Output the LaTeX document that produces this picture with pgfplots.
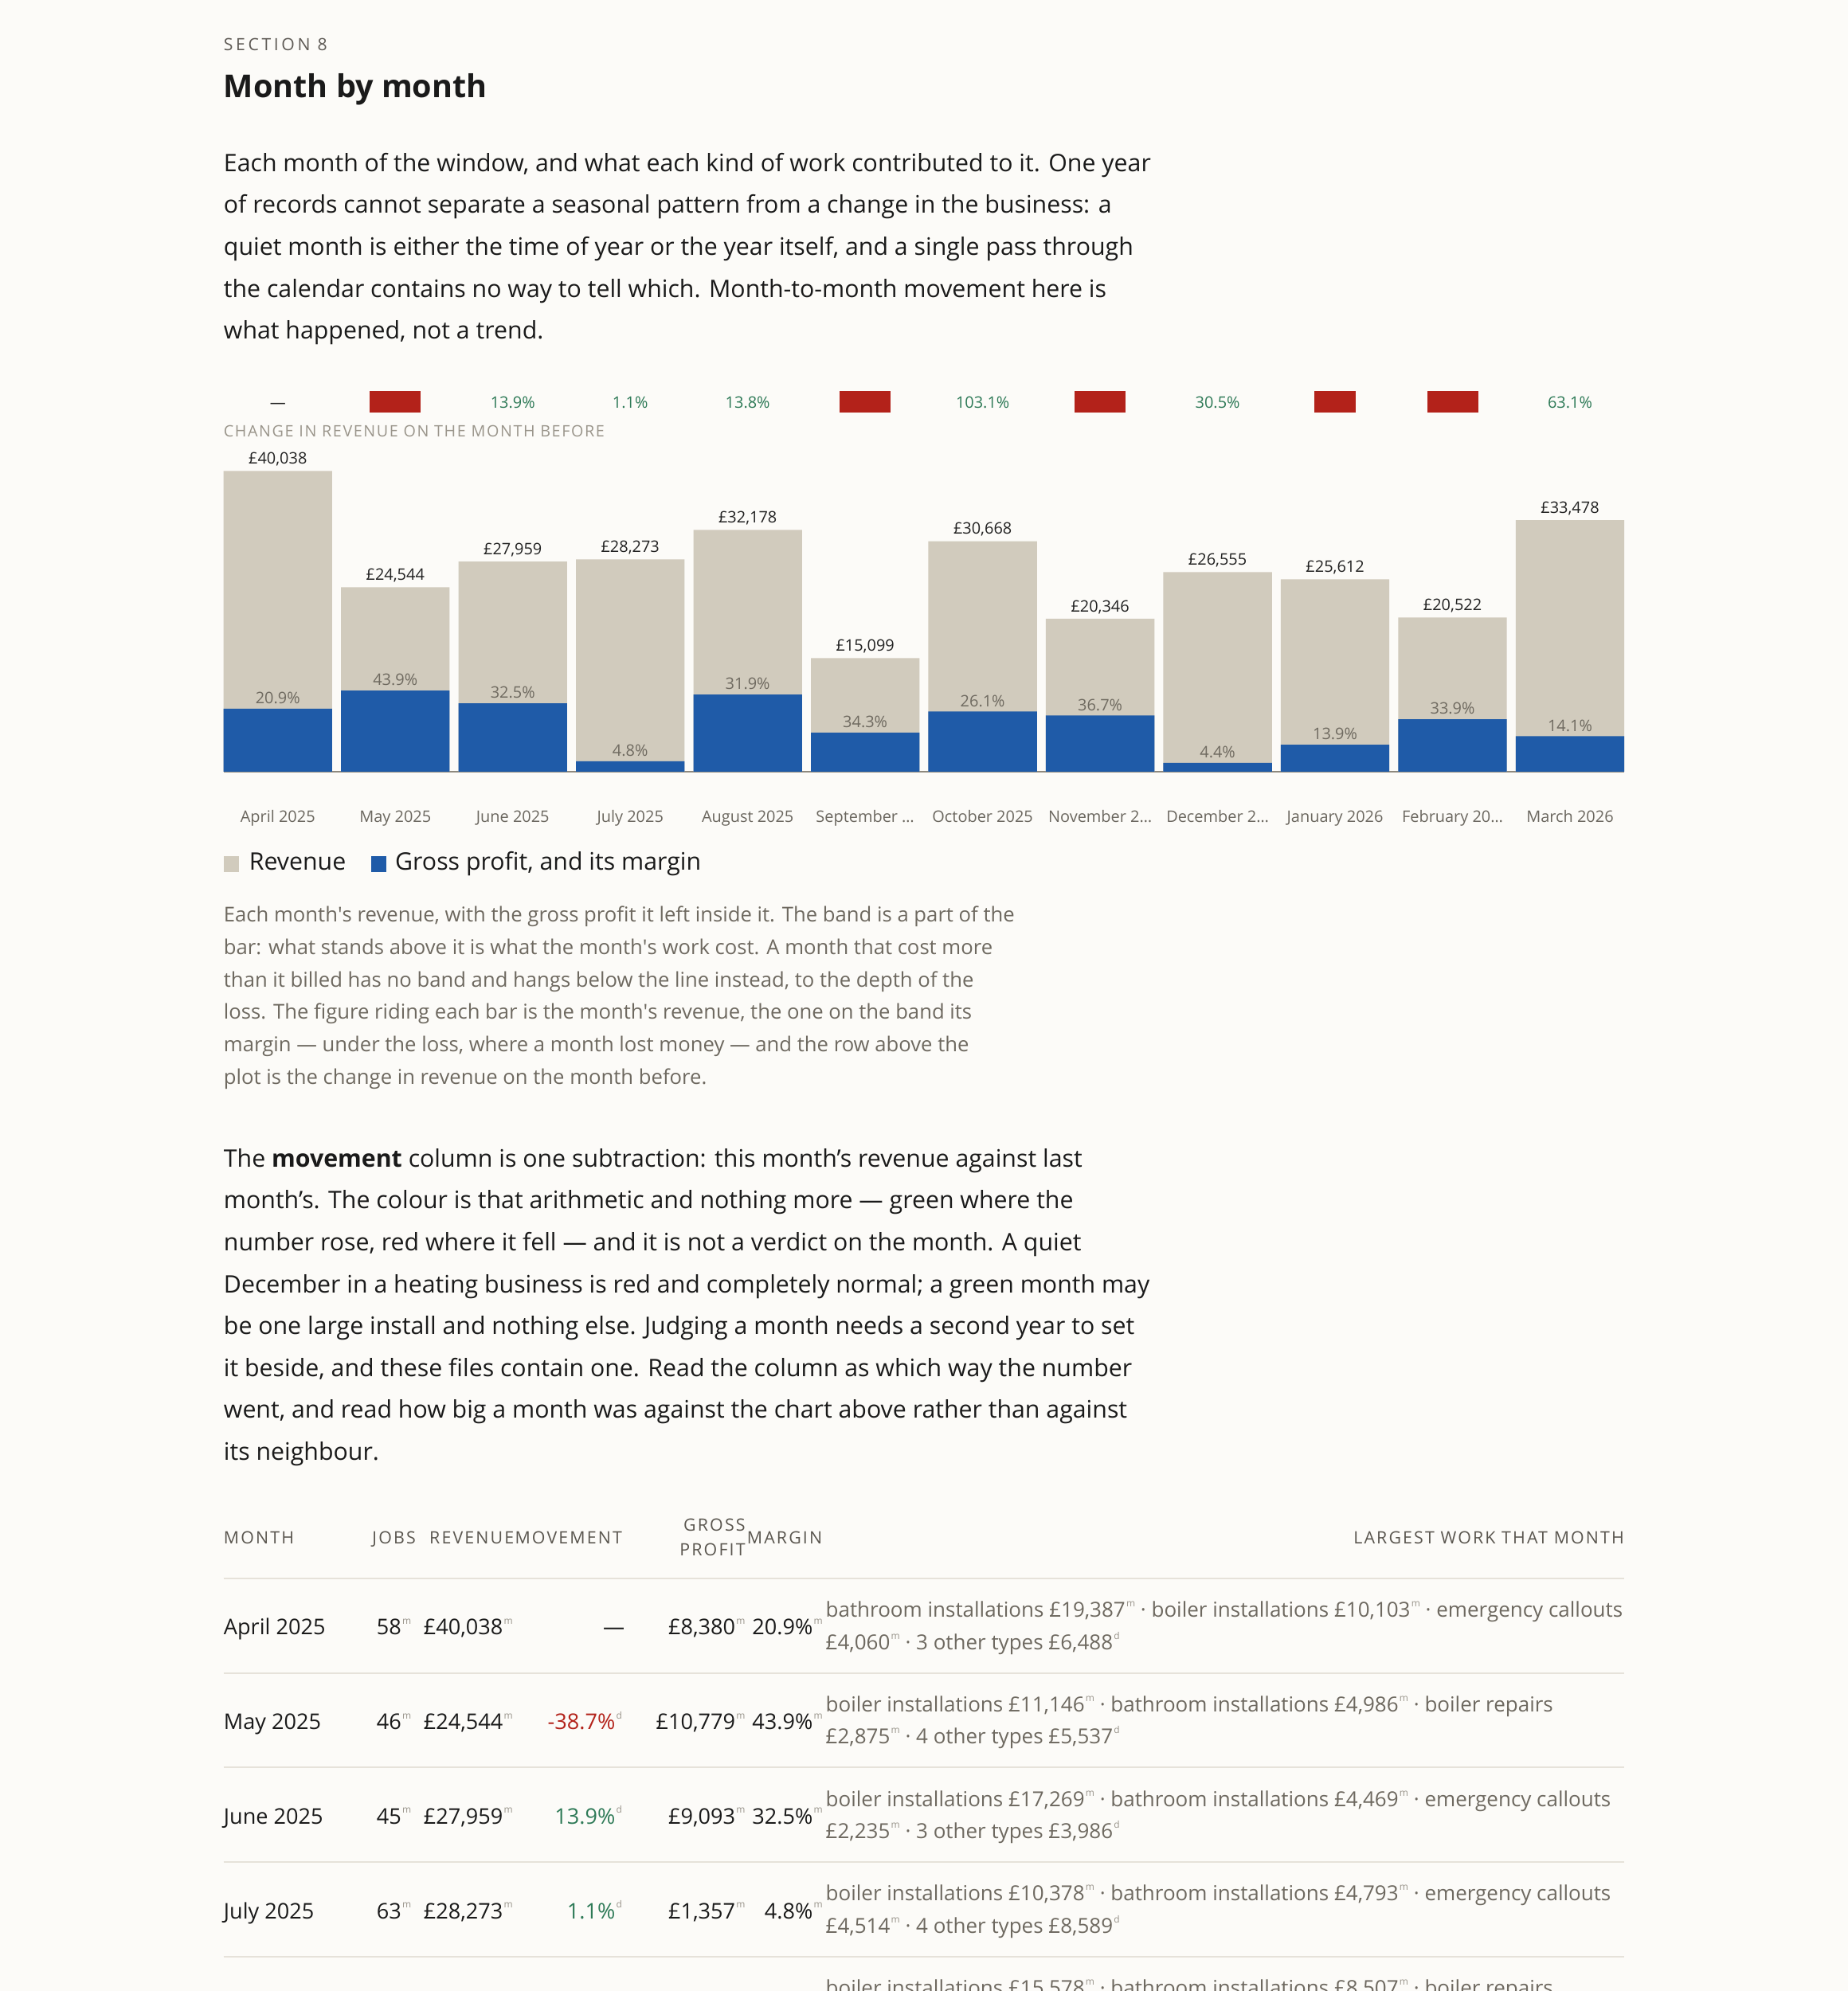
\documentclass[border=0pt]{standalone}
\usepackage{fontspec}
\setmainfont{Open Sans}
\newfontfamily\spacedA[LetterSpace=17]{Open Sans}
\newfontfamily\spacedB[LetterSpace=8]{Open Sans}
\newfontfamily\spacedC[LetterSpace=10]{Open Sans}
\usepackage{pgfplots}
\usepackage{pgfplotstable}
\pgfplotsset{compat=1.18}

\definecolor{bg}{HTML}{FCFBF8}
\definecolor{ink}{HTML}{1A1A1A}
\definecolor{ink2}{HTML}{222222}
\definecolor{secgray}{HTML}{5E5A55}
\definecolor{capgray}{HTML}{6E6960}
\definecolor{lblgray}{HTML}{9A958B}
\definecolor{tickgray}{HTML}{6B675F}
\definecolor{revbeige}{HTML}{D1CBBD}
\definecolor{gpblue}{HTML}{1F5BA8}
\definecolor{fallred}{HTML}{B3221A}
\definecolor{risegreen}{HTML}{2E7A57}
\definecolor{marggray}{HTML}{6F6A60}
\definecolor{axisgray}{HTML}{8E897E}
\definecolor{rulegray}{HTML}{E6E2DA}
\definecolor{supgray}{HTML}{9A958C}
\definecolor{headgray}{HTML}{5A564F}

\newcommand\sm[1]{\kern0.8pt\raisebox{0.5em}{\fontsize{7.5}{8}\selectfont\color{supgray}#1}}
\newcommand\bodyfont{\fontsize{19}{33}\selectfont}
\newcommand\capfont{\fontsize{16.1}{25}\selectfont}
\newcommand\cellfont{\fontsize{17}{20}\selectfont}
\newcommand\workfont{\fontsize{16.3}{20}\selectfont}
\newcommand\smallfont{\fontsize{12.5}{14}\selectfont}

\pgfplotstableread{
x rev gp marg
0 40038 8380 20.9
1 24544 10779 43.9
2 27959 9093 32.5
3 28273 1357 4.8
4 32178 10265 31.9
5 15099 5179 34.3
6 30668 8004 26.1
7 20346 7467 36.7
8 26555 1168 4.4
9 25612 3560 13.9
10 20522 6957 33.9
11 33478 4720 14.1
}\monthdata

\pgfplotstableread{
x y chg
2 48393 13.9
3 48393 1.1
4 48393 13.8
6 48393 103.1
8 48393 30.5
11 48393 63.1
}\rises

\pgfplotstableread{
x y chg
1 47801 -38.7
5 47801 -53.1
7 47801 -33.7
9 47801 -3.6
10 47801 -19.9
}\falls

\pgfplotstableread{
x y
0 48393
}\firstmonth

\begin{document}
\begin{tikzpicture}[x=1pt,y=1pt]
\useasboundingbox (0,0) rectangle (1455,-1568);
\clip (0,0) rectangle (1455,-1568);
\fill[bg] (0,0) rectangle (1455,-1568);

% header
\node[anchor=base west,inner sep=0,text=secgray,font=\spacedA\fontsize{13.3}{15}\selectfont] at (176,-40) {SECTION 8};
\node[anchor=base west,inner sep=0,text=ink,font=\bfseries\fontsize{24.8}{30}\selectfont] at (176,-77) {Month by month};

% intro paragraph
\begin{scope}[every node/.style={anchor=base west,inner sep=0,text=ink,font=\bodyfont}]
\node at (176,-135) {Each month of the window, and what each kind of work contributed to it. One year};
\node at (176,-168) {of records cannot separate a seasonal pattern from a change in the business: a};
\node at (176,-201) {quiet month is either the time of year or the year itself, and a single pass through};
\node at (176,-234) {the calendar contains no way to tell which. Month-to-month movement here is};
\node at (176,-267) {what happened, not a trend.};
\end{scope}

\node[anchor=base west,inner sep=0,text=lblgray,font=\spacedB\fontsize{12.4}{14}\selectfont] at (176,-344) {CHANGE IN REVENUE ON THE MONTH BEFORE};

\begin{axis}[
  at={(176pt,-607.6pt)}, anchor=south west,
  scale only axis, width=1103pt, height=266.04pt,
  xmin=-0.4622, xmax=11.4622, ymin=0, ymax=45000,
  axis x line=bottom, axis y line=none,
  axis line style={-, draw=axisgray, line width=1.4pt},
  xtick={0,...,11},
  xticklabels={April 2025, May 2025, June 2025, July 2025, August 2025, September …, October 2025, November 2…, December 2…, January 2026, February 20…, March 2026},
  major tick length=0pt,
  xticklabel style={font=\smallfont, text=tickgray, anchor=base, yshift=-40pt},
  ytick=\empty,
  clip=false,
  /pgf/number format/.cd, fixed, precision=0, 1000 sep={,}, assume math mode=true,
]
\addplot[ybar, bar width=85.5pt, bar shift=0pt, fill=revbeige, draw=none,
  point meta=y,
  nodes near coords={£\pgfmathprintnumber{\pgfplotspointmeta}},
  nodes near coords style={font=\smallfont, text=ink2, anchor=south, inner sep=0pt, text depth=0pt, yshift=5.4pt}]
  table[x=x,y=rev]{\monthdata};
\addplot[ybar, bar width=85.5pt, bar shift=0pt, fill=gpblue, draw=none,
  point meta=explicit symbolic,
  nodes near coords={\pgfplotspointmeta\%},
  nodes near coords style={font=\smallfont, text=marggray, anchor=south, inner sep=0pt, text depth=0pt, yshift=3.7pt}]
  table[x=x,y=gp,meta=marg]{\monthdata};
% change on the month before
\addplot[draw=none, mark=none,
  point meta=explicit symbolic,
  nodes near coords={\pgfplotspointmeta\%},
  nodes near coords style={font=\smallfont, text=risegreen, anchor=south, inner sep=0pt, text depth=0pt}]
  table[x=x,y=y,meta=chg]{\rises};
\addplot[draw=none, mark=none,
  point meta=explicit symbolic,
  nodes near coords={\pgfplotspointmeta\%},
  nodes near coords style={font=\fontsize{12.5}{13}\selectfont, text=fallred, fill=fallred, anchor=south, inner xsep=0.5pt, inner ysep=3.5pt, text height=10pt, text depth=0pt}]
  table[x=x,y=y,meta=chg]{\falls};
\addplot[draw=none, mark=none,
  nodes near coords={—},
  nodes near coords style={font=\smallfont, text=ink2, anchor=south, inner sep=0pt, text depth=0pt}]
  table[x=x,y=y]{\firstmonth};
\end{axis}

% legend
\fill[revbeige] (176,-674) rectangle (188,-687);
\node[anchor=base west,inner sep=0,text=ink,font=\fontsize{19}{22}\selectfont] at (196,-685.5) {Revenue};
\fill[gpblue] (292,-674) rectangle (304,-687);
\node[anchor=base west,inner sep=0,text=ink,font=\fontsize{19}{22}\selectfont] at (311,-685.5) {Gross profit, and its margin};

% caption
\begin{scope}[every node/.style={anchor=base west,inner sep=0,text=capgray,font=\capfont}]
\node at (176,-726) {Each month\textquotesingle s revenue, with the gross profit it left inside it. The band is a part of the};
\node at (176,-751.6) {bar: what stands above it is what the month\textquotesingle s work cost. A month that cost more};
\node at (176,-777.2) {than it billed has no band and hangs below the line instead, to the depth of the};
\node at (176,-802.8) {loss. The figure riding each bar is the month\textquotesingle s revenue, the one on the band its};
\node at (176,-828.4) {margin — under the loss, where a month lost money — and the row above the};
\node at (176,-854) {plot is the change in revenue on the month before.};
\end{scope}

% second paragraph
\begin{scope}[every node/.style={anchor=base west,inner sep=0,text=ink,font=\bodyfont}]
\node at (176,-919) {The \textbf{movement} column is one subtraction: this month’s revenue against last};
\node at (176,-952) {month’s. The colour is that arithmetic and nothing more — green where the};
\node at (176,-985) {number rose, red where it fell — and it is not a verdict on the month. A quiet};
\node at (176,-1018) {December in a heating business is red and completely normal; a green month may};
\node at (176,-1051) {be one large install and nothing else. Judging a month needs a second year to set};
\node at (176,-1084) {it beside, and these files contain one. Read the column as which way the number};
\node at (176,-1117) {went, and read how big a month was against the chart above rather than against};
\node at (176,-1150) {its neighbour.};
\end{scope}

% table header
\begin{scope}[every node/.style={inner sep=0,text=headgray,font=\spacedC\fontsize{13.4}{15}\selectfont}]
\node[anchor=base west] at (176,-1215.5) {MONTH};
\node[anchor=base west] at (293,-1215.5) {JOBS};
\node[anchor=base west] at (338,-1215.5) {REVENUE};
\node[anchor=base east] at (490,-1215.5) {MOVEMENT};
\node[anchor=base east] at (587,-1205.5) {GROSS};
\node[anchor=base east] at (587,-1225.5) {PROFIT};
\node[anchor=base west] at (588,-1215.5) {MARGIN};
\node[anchor=base east] at (1279,-1215.5) {LARGEST WORK THAT MONTH};
\end{scope}
\foreach \yy in {1243,1317.6,1392,1466.5,1541}
  \draw[rulegray, line width=1.3pt] (176,-\yy) -- (1279,-\yy);

% table rows
\begin{scope}[every node/.style={inner sep=0,text=ink,font=\cellfont}]
% April
\node[anchor=base west] at (176,-1287.5) {April 2025};
\node[anchor=base east] at (324,-1287.5) {58\sm{m}};
\node[anchor=base east] at (404,-1287.5) {£40,038\sm{m}};
\node[anchor=base east] at (492,-1287.5) {—};
\node[anchor=base east] at (587,-1287.5) {£8,380\sm{m}};
\node[anchor=base east] at (648,-1287.5) {20.9\%\sm{m}};
% May
\node[anchor=base west] at (176,-1362) {May 2025};
\node[anchor=base east] at (324,-1362) {46\sm{m}};
\node[anchor=base east] at (404,-1362) {£24,544\sm{m}};
\node[anchor=base east,text=fallred] at (490,-1362) {-38.7\%\sm{d}};
\node[anchor=base east] at (587,-1362) {£10,779\sm{m}};
\node[anchor=base east] at (648,-1362) {43.9\%\sm{m}};
% June
\node[anchor=base west] at (176,-1436.5) {June 2025};
\node[anchor=base east] at (324,-1436.5) {45\sm{m}};
\node[anchor=base east] at (404,-1436.5) {£27,959\sm{m}};
\node[anchor=base east,text=risegreen] at (490,-1436.5) {13.9\%\sm{d}};
\node[anchor=base east] at (587,-1436.5) {£9,093\sm{m}};
\node[anchor=base east] at (648,-1436.5) {32.5\%\sm{m}};
% July
\node[anchor=base west] at (176,-1511) {July 2025};
\node[anchor=base east] at (324,-1511) {63\sm{m}};
\node[anchor=base east] at (404,-1511) {£28,273\sm{m}};
\node[anchor=base east,text=risegreen] at (490,-1511) {1.1\%\sm{d}};
\node[anchor=base east] at (587,-1511) {£1,357\sm{m}};
\node[anchor=base east] at (648,-1511) {4.8\%\sm{m}};
\end{scope}

\begin{scope}[every node/.style={anchor=base west,inner sep=0,text=capgray,font=\workfont}]
\node at (650,-1273.5) {bathroom installations £19,387\sm{m} · boiler installations £10,103\sm{m} · emergency callouts};
\node at (650,-1299) {£4,060\sm{m} · 3 other types £6,488\sm{d}};
\node at (650,-1348) {boiler installations £11,146\sm{m} · bathroom installations £4,986\sm{m} · boiler repairs};
\node at (650,-1373.5) {£2,875\sm{m} · 4 other types £5,537\sm{d}};
\node at (650,-1422.5) {boiler installations £17,269\sm{m} · bathroom installations £4,469\sm{m} · emergency callouts};
\node at (650,-1448) {£2,235\sm{m} · 3 other types £3,986\sm{d}};
\node at (650,-1497) {boiler installations £10,378\sm{m} · bathroom installations £4,793\sm{m} · emergency callouts};
\node at (650,-1522.5) {£4,514\sm{m} · 4 other types £8,589\sm{d}};
\node at (650,-1571.5) {boiler installations £15,578\sm{m} · bathroom installations £8,507\sm{m} · boiler repairs};
\end{scope}
\end{tikzpicture}
\end{document}
